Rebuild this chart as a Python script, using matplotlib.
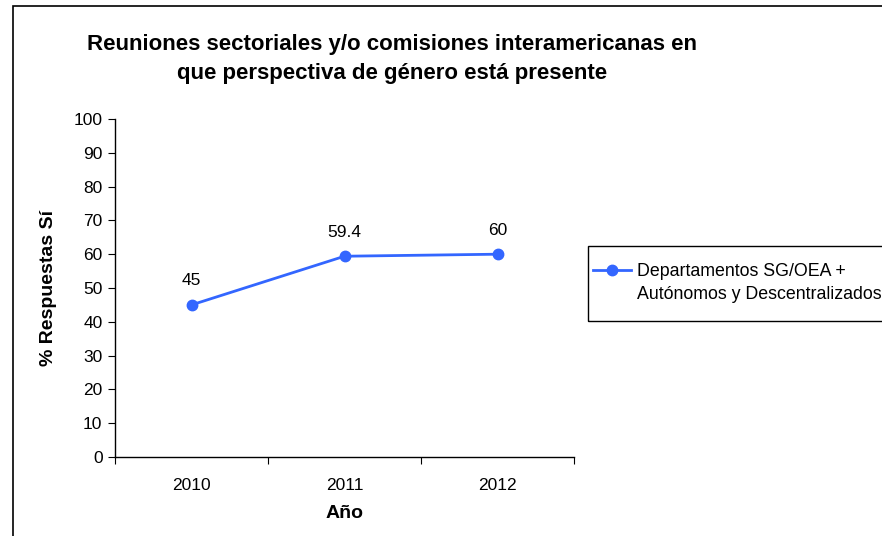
import matplotlib
matplotlib.use("Agg")
import matplotlib.pyplot as plt
from matplotlib.patches import Rectangle
from matplotlib.lines import Line2D

plt.rcParams['font.family'] = ['Liberation Sans', 'DejaVu Sans']

years = ["2010", "2011", "2012"]
values = [45, 59.4, 60]
value_labels = ["45", "59.4", "60"]
series_name_lines = ["Departamentos SG/OEA +", "Autónomos y Descentralizados"]
yticks = [0, 10, 20, 30, 40, 50, 60, 70, 80, 90, 100]

W, H = 882, 536
fig = plt.figure(figsize=(W/100, H/100), dpi=100)
ax = fig.add_axes([115/W, 1-457/H, (574-115)/W, (457-119)/H])

x = list(range(len(years)))
line, = ax.plot(x, values, color='#3366FF', lw=2.0, marker='o', markersize=7.5,
                label=series_name_lines[0])
for xi, v, t in zip(x, values, value_labels):
    ax.annotate(t, (xi, v), xytext=(0, 12), textcoords='offset points',
                ha='center', va='bottom', fontsize=12.5)

ax.set_xlim(-0.5, 2.5)
ax.set_ylim(0, 100)
ax.set_yticks(yticks)
ax.set_xticks([-0.5, 0.5, 1.5, 2.5])
ax.set_xticklabels([])
ax.set_xticks(x, minor=True)
ax.set_xticklabels(years, minor=True)
ax.tick_params(axis='x', which='minor', length=0, pad=15, labelsize=12.5)
ax.tick_params(axis='x', which='major', length=5, direction='out')
ax.tick_params(axis='y', length=5, direction='out', labelsize=12.5, pad=4)
for s in ['top', 'right']:
    ax.spines[s].set_visible(False)
ax.spines['left'].set_linewidth(1)
ax.spines['bottom'].set_linewidth(1)

ax.set_xlabel("Año", fontsize=14, fontweight='bold', labelpad=9)
ax.set_ylabel("% Respuestas Sí", fontsize=14, fontweight='bold', labelpad=12)

fig.text(392/W, 1-59/H,
         "Reuniones sectoriales y/o comisiones interamericanas en\nque perspectiva de género está presente",
         ha='center', va='center', fontsize=16, fontweight='bold', linespacing=1.5)

blank = Line2D([], [], alpha=0)
leg = fig.legend(handles=[line, blank], labels=series_name_lines, loc='center left',
                 bbox_to_anchor=(588/W, 1-283/H), bbox_transform=fig.transFigure,
                 frameon=False, fontsize=12.8, labelspacing=0.35,
                 borderaxespad=0, handlelength=2.15, borderpad=0.28, handletextpad=0.35)

fig.patches.append(Rectangle((588/W, 1-321/H), 1.0, 75/H, transform=fig.transFigure,
                             fill=False, edgecolor='black', lw=1.0))
fig.patches.append(Rectangle((13/W, -0.1), 1.0, 0.1 + (H-6)/H, transform=fig.transFigure,
                             fill=False, edgecolor='black', lw=1.2))

fig.savefig("out.png", dpi=100)
